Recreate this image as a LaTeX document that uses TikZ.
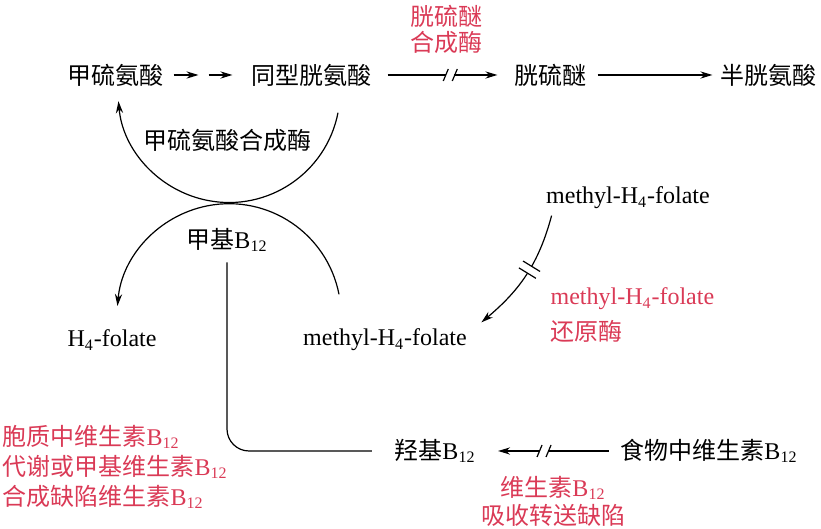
\documentclass[tikz,border=0pt]{standalone}
\usepackage{fontspec}
\setmainfont{Liberation Serif}
\newfontfamily\cjk{Noto Sans CJK SC}
\newcommand{\zh}[1]{{\cjk #1}}
\usetikzlibrary{arrows.meta,decorations.markings,calc}
\definecolor{enzred}{RGB}{218,58,86}
\tikzset{
	arr/.style={-{Stealth[length=6pt,width=3.6pt]}},
	plainline/.style={-,shorten >=0pt,shorten <=0pt},
	cutmark/.style={postaction={decorate,decoration={markings,
		mark=at position #1 with {\fill[white] (-4,-3) rectangle (4,3);
			\draw[plainline] (-7,-6)--(-2,6) (2,-6)--(7,6);}}}},
	cutmark/.default=.5,
	barmark/.style={postaction={decorate,decoration={markings,
		mark=at position #1 with {\fill[white] (-4,-2) rectangle (4,2);
			\draw[plainline] (-4,-10)--(-4,10) (4,-10)--(4,10);}}}},
	barmark/.default=.5,
	lab/.style={font=\fontsize{12}{14}\selectfont,inner sep=3pt},
	enz/.style={lab,text=enzred}
}

\begin{document}
\begin{tikzpicture}[x=0.5pt,y=0.5pt,line width=0.6pt]
	\useasboundingbox (0,0) rectangle (821,529);
	
	% top row
	\node[lab] (met) at (116,454) {\zh{甲硫氨酸}};
	\node[lab] (hcy) at (311,454) {\zh{同型胱氨酸}};
	\node[lab] (cysta) at (550,454) {\zh{胱硫醚}};
	\node[lab] (cys) at (768,454) {\zh{半胱氨酸}};
	\node[enz,align=center] (cbs) at (446,500) {\zh{胱硫醚}\\[-1pt]\zh{合成酶}};
	
	\coordinate (mid) at ($(met.east)!.5!(hcy.west)$);
	\draw[arr,shorten <=1.5pt,shorten >=4.5pt] (met.east) -- (mid);
	\draw[arr,shorten <=0.5pt,shorten >=6pt] (mid) -- (hcy.west);
	\draw[arr,shorten <=5pt,shorten >=5pt,cutmark=.56] (hcy) -- (cysta);
	\draw[arr,shorten <=2.5pt,shorten >=0.5pt] (cysta) -- (cys);
	
	% the two arcs
	\node[lab] (mslab) at (227,389) {\zh{甲硫氨酸合成酶}};
	\node[lab] (mb12) at (227,289) {\zh{甲基}B\textsubscript{12}};
	\node[lab] (h4f) at (112,189) {H\textsubscript{4}-folate};
	\node[lab] (mfol) at (385,189) {methyl-H\textsubscript{4}-folate};
	\draw[arr] (hcy.south) ++(27,-20) arc[start angle=-11,end angle=-175,radius=111];
	\draw[arr] (mfol.north) ++(-46,28) arc[start angle=11,end angle=175,radius=112];
	
	% folate side
	\node[lab] (mfol2) at (628,331) {methyl-H\textsubscript{4}-folate};
	\node[enz,anchor=west,align=left] (mtr) at (544,214) {methyl-H\textsubscript{4}-folate\\[4pt]\zh{还原酶}};
	\draw[arr,barmark=.45] ([xshift=6pt]mfol2.south west) to[out=-105,in=40] ([xshift=4pt]mfol.north east);
	
	% bottom row
	\node[lab] (ohb) at (435,78) {\zh{羟基}B\textsubscript{12}};
	\node[lab] (food) at (709,78) {\zh{食物中维生素}B\textsubscript{12}};
	\node[enz,align=center] (absd) at (553,28) {\zh{维生素}B\textsubscript{12}\\[0pt]\zh{吸收转送缺陷}};
	\node[enz,anchor=west,align=left,inner sep=1pt] (defic) at (0,62) {\zh{胞质中维生素}B\textsubscript{12}\\[1pt]\zh{代谢或甲基维生素}B\textsubscript{12}\\[1pt]\zh{合成缺陷维生素}B\textsubscript{12}};
	\draw[arr,shorten <=2.5pt,shorten >=8pt,cutmark=.53] (food) -- (ohb);
	\draw[rounded corners=11pt,shorten <=2pt,shorten >=8pt] (mb12.south) |- (ohb.west);
\end{tikzpicture}
\end{document}
